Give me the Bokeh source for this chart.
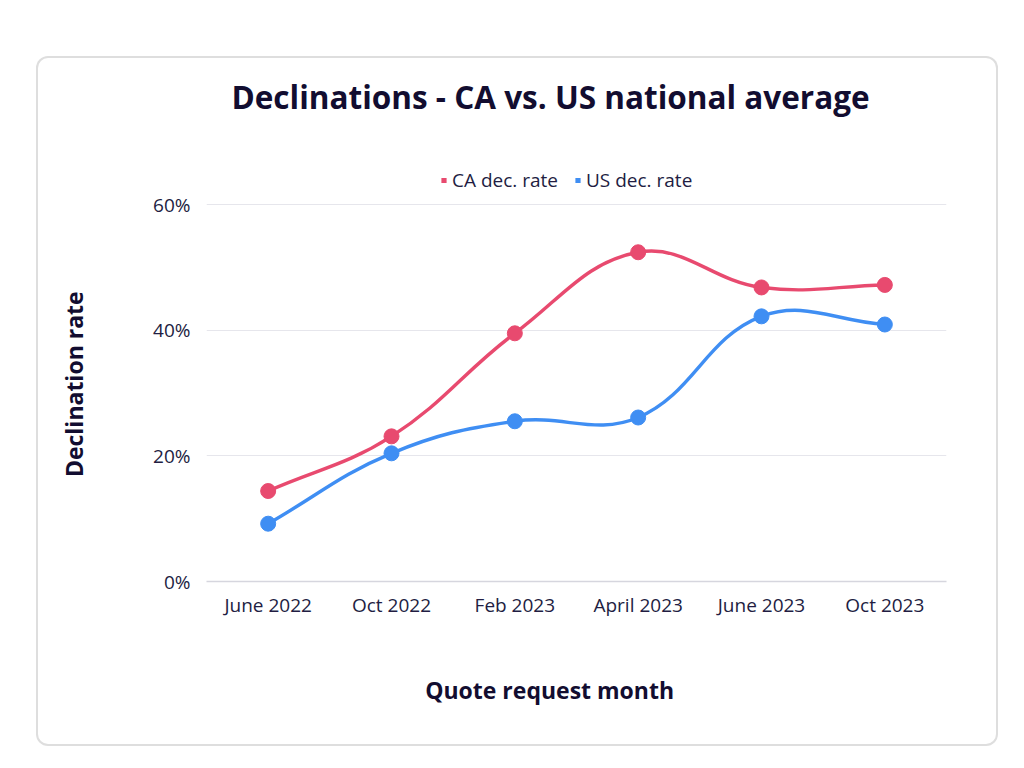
from bokeh.plotting import figure
from bokeh.models import (Range1d, FixedTicker, Legend, LegendItem, Label,
                          PrintfTickFormatter)
from bokeh.embed import file_html
from bokeh.resources import INLINE
import math

# ---- data ----
months = ["June 2022", "Oct 2022", "Feb 2023", "April 2023", "June 2023", "Oct 2023"]
ca_rate = [14.4, 23.1, 39.5, 52.4, 46.8, 47.2]
us_rate = [9.2, 20.4, 25.5, 26.1, 42.2, 40.9]
y_ticks = [0, 20, 40, 60]
series_names = ["CA dec. rate", "US dec. rate"]

CA_COLOR = "#e84a6f"
US_COLOR = "#3f8ef3"
TEXT = "#221d42"
TITLE = "#120d30"
FONT = "Open Sans"
NBSP = "\u00a0"

# card (figure) size and inner frame borders
W, H = 958, 686
ML, MR, MT, MB = 168, 50, 9, 163
frame_w = W - ML - MR
frame_h = H - MT - MB
PX_PER_UNIT = 377 / 60.0          # pixels per percentage point
Y_TOP = frame_h / PX_PER_UNIT     # extra headroom for title + legend

p = figure(width=W, height=H, output_backend="svg", toolbar_location=None,
           x_range=Range1d(-0.5, len(months) - 0.5), y_range=Range1d(0, Y_TOP),
           min_border_left=ML, min_border_right=MR, min_border_top=MT,
           min_border_bottom=MB, background_fill_color="white",
           border_fill_color=None, outline_line_color=None)
p.margin = (58, 0, 0, 38)
p.styles = {"box-shadow": "0 0 0 2px #dedede", "border-radius": "10px",
            "overflow": "hidden", "background-color": "white"}

# axes
xa = p.xaxis[0]
xa.ticker = FixedTicker(ticks=list(range(len(months))))
xa.major_label_overrides = {i: m for i, m in enumerate(months)}
xa.major_tick_line_color = None
xa.minor_tick_line_color = None
xa.axis_line_color = "#d6d6de"
xa.axis_line_width = 1.5
xa.major_label_text_font = FONT
xa.major_label_text_font_size = "19px"
xa.major_label_text_color = TEXT
xa.major_label_standoff = 4
# trailing no-break spaces shift the centred label towards the card centre
xa.axis_label = "Quote request month" + NBSP * 9
xa.axis_label_text_font = FONT
xa.axis_label_text_font_style = "bold"
xa.axis_label_text_font_size = "23px"
xa.axis_label_text_color = TITLE
xa.axis_label_standoff = 53

ya = p.yaxis[0]
ya.ticker = FixedTicker(ticks=y_ticks)
ya.formatter = PrintfTickFormatter(format="%d%%")
ya.major_tick_line_color = None
ya.minor_tick_line_color = None
ya.axis_line_color = None
ya.major_label_text_font = FONT
ya.major_label_text_font_size = "19px"
ya.major_label_text_color = TEXT
ya.major_label_standoff = 10
ya.axis_label = "Declination rate" + NBSP * 20
ya.axis_label_text_font = FONT
ya.axis_label_text_font_style = "bold"
ya.axis_label_text_font_size = "23px"
ya.axis_label_text_color = TITLE
ya.axis_label_standoff = 60

p.xgrid.grid_line_color = None
p.ygrid.grid_line_color = "#e6e6ec"
p.ygrid.grid_line_width = 1


# smooth curve (Chart.js-style spline, tension 0.4) computed in pixel space
def spline_segments(ys, tension=0.4):
    sx = frame_w / len(months)
    sy = PX_PER_UNIT
    pts = [(i * sx, v * sy) for i, v in enumerate(ys)]
    n = len(pts)
    cps = []
    for i in range(n):
        cur = pts[i]
        prev = pts[i - 1] if i > 0 else cur
        nxt = pts[i + 1] if i < n - 1 else cur
        d01 = math.hypot(cur[0] - prev[0], cur[1] - prev[1])
        d12 = math.hypot(nxt[0] - cur[0], nxt[1] - cur[1])
        tot = d01 + d12
        s01 = d01 / tot if tot else 0
        s12 = d12 / tot if tot else 0
        fa, fb = tension * s01, tension * s12
        pc = (cur[0] - fa * (nxt[0] - prev[0]), cur[1] - fa * (nxt[1] - prev[1]))
        nc = (cur[0] + fb * (nxt[0] - prev[0]), cur[1] + fb * (nxt[1] - prev[1]))
        cps.append((pc, nc))
    seg = dict(x0=[], y0=[], x1=[], y1=[], cx0=[], cy0=[], cx1=[], cy1=[])
    for i in range(n - 1):
        seg["x0"].append(i)
        seg["y0"].append(ys[i])
        seg["x1"].append(i + 1)
        seg["y1"].append(ys[i + 1])
        seg["cx0"].append(cps[i][1][0] / sx)
        seg["cy0"].append(cps[i][1][1] / sy)
        seg["cx1"].append(cps[i + 1][0][0] / sx)
        seg["cy1"].append(cps[i + 1][0][1] / sy)
    return seg


legend_items = []
for name, ys, col in ((series_names[0], ca_rate, CA_COLOR),
                      (series_names[1], us_rate, US_COLOR)):
    s = spline_segments(ys)
    p.bezier(x0=s["x0"], y0=s["y0"], x1=s["x1"], y1=s["y1"],
             cx0=s["cx0"], cy0=s["cy0"], cx1=s["cx1"], cy1=s["cy1"],
             line_color=col, line_width=3.4)
    p.scatter(x=list(range(len(months))), y=ys, size=15, marker="circle",
              fill_color=col, line_color=col)
    # legend-only square marker (never drawn in the plot: NaN position)
    key = p.scatter(x=[0], y=[float("nan")], marker="square", size=6,
                    fill_color=col, line_color=None)
    legend_items.append(LegendItem(label=name, renderers=[key]))

legend = Legend(items=legend_items,
                orientation="horizontal", location=(231, 388),
                glyph_width=13, glyph_height=20, label_standoff=2, spacing=13,
                padding=0, margin=0, border_line_alpha=0,
                background_fill_alpha=0,
                label_text_font=FONT, label_text_font_size="19px",
                label_text_color=TEXT)
p.add_layout(legend)

# title
title = Label(x=344, y=485, x_units="screen", y_units="screen",
              text="Declinations - CA vs. US national average",
              text_font=FONT, text_font_style="bold", text_font_size="31.5px",
              text_color=TITLE, text_align="center", text_baseline="middle")
p.add_layout(title)

open("out.html", "w").write(file_html(p, INLINE))
